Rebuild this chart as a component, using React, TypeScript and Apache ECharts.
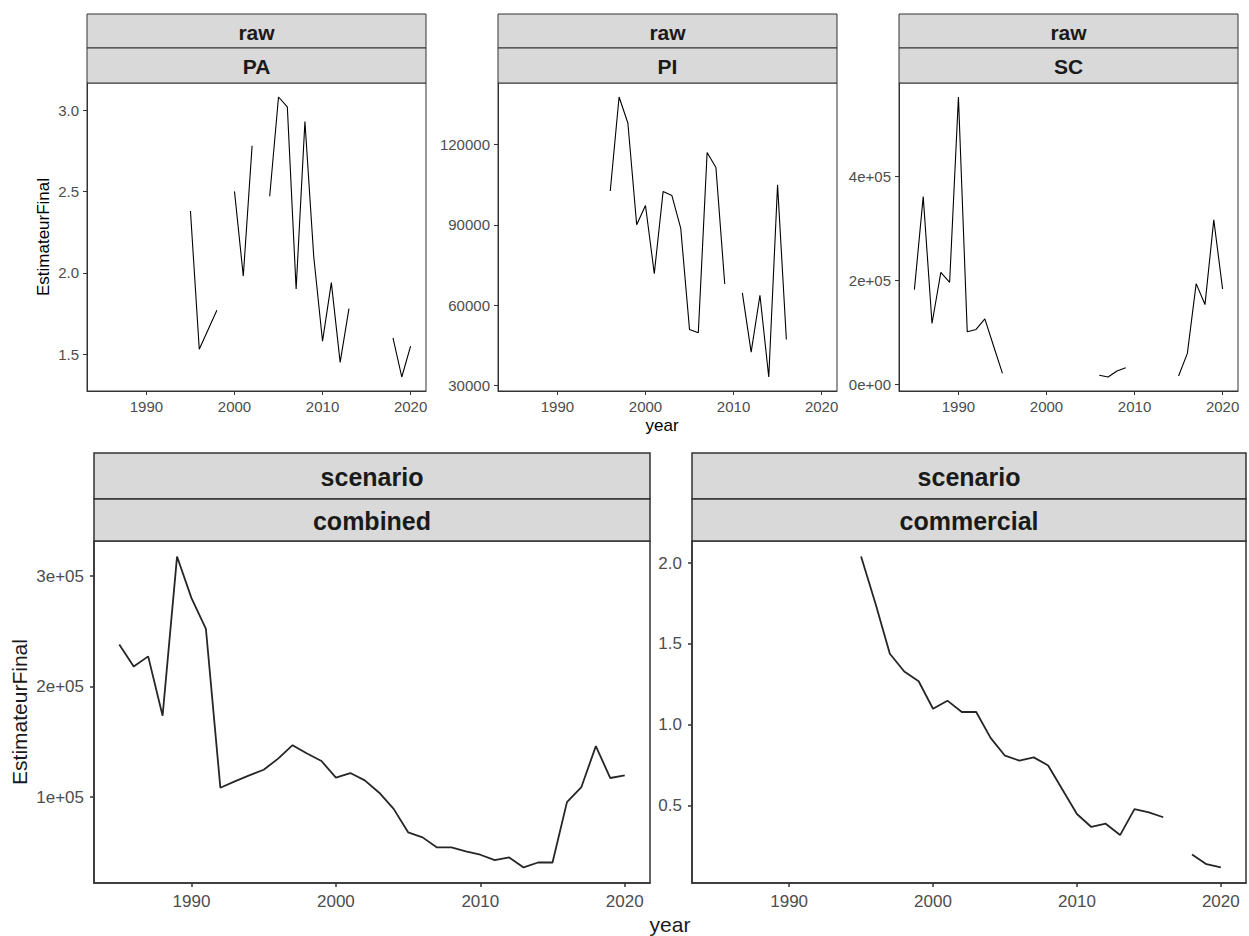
import React, { useEffect, useRef } from "react";
import * as echarts from "echarts";

const YEARS = [1985, 1986, 1987, 1988, 1989, 1990, 1991, 1992, 1993, 1994, 1995, 1996, 1997, 1998, 1999, 2000, 2001, 2002, 2003, 2004, 2005, 2006, 2007, 2008, 2009, 2010, 2011, 2012, 2013, 2014, 2015, 2016, 2017, 2018, 2019, 2020];

const PA = [null, null, null, null, null, null, null, null, null, null, 2.38, 1.53, 1.65, 1.77, null, 2.5, 1.98, 2.78, null, 2.47, 3.08, 3.02, 1.9, 2.93, 2.1, 1.58, 1.94, 1.45, 1.78, null, null, null, null, 1.6, 1.36, 1.55];
const PI = [null, null, null, null, null, null, null, null, null, null, null, 102600, 137700, 128000, 90000, 97200, 71800, 102400, 100900, 88800, 50900, 49700, 117000, 111400, 67900, null, 64600, 42500, 63700, 33200, 104900, 47200, null, null, null, null];
const SC = [181800, 360400, 116700, 215000, 195900, 551800, 100800, 105300, 125700, 73000, 21000, null, null, null, null, null, null, null, null, null, null, 17200, 14000, 25500, 31900, null, null, null, null, null, 16000, 59300, 193300, 153100, 315800, 183100];
const COMBINED = [238000, 218200, 227300, 173600, 317600, 280000, 252100, 108500, 114200, 119700, 124800, 134800, 147000, 139400, 132700, 117600, 121800, 115200, 104000, 89400, 68200, 63600, 54500, 54500, 50900, 47900, 43000, 45500, 36400, 40900, 40900, 95500, 109100, 146100, 117300, 119700];
const COMMERCIAL = [null, null, null, null, null, null, null, null, null, null, 2.04, 1.75, 1.44, 1.33, 1.27, 1.1, 1.15, 1.08, 1.08, 0.92, 0.81, 0.78, 0.8, 0.75, 0.6, 0.45, 0.37, 0.39, 0.32, 0.48, 0.46, 0.43, null, 0.2, 0.14, 0.12];

const X_TICKS = [1990, 2000, 2010, 2020];
const PA_TICKS = [1.5, 2.0, 2.5, 3.0];
const PI_TICKS = [30000, 60000, 90000, 120000];
const SC_TICKS = [0, 200000, 400000];
const COMBINED_TICKS = [100000, 200000, 300000];
const COMMERCIAL_TICKS = [0.5, 1.0, 1.5, 2.0];

const STRIP_TOP = ["raw", "raw", "raw", "scenario", "scenario"];
const STRIP_BOTTOM = ["PA", "PI", "SC", "combined", "commercial"];

const FONT = "'Liberation Sans', Arial, Helvetica, sans-serif";

function range(vals: (number | null)[]): [number, number] {
  const v = vals.filter((x) => x !== null) as number[];
  const mn = Math.min(...v);
  const mx = Math.max(...v);
  const pad = (mx - mn) * 0.05;
  return [mn - pad, mx + pad];
}

function sci(v: number): string {
  if (v === 0) return "0e+00";
  const e = Math.floor(Math.log10(Math.abs(v)));
  const m = Math.round((v / Math.pow(10, e)) * 100) / 100;
  const es = (e < 0 ? "-" : "+") + String(Math.abs(e)).padStart(2, "0");
  return `${m}e${es}`;
}

export default function App() {
  const ref = useRef<HTMLDivElement>(null);

  useEffect(() => {
    if (!ref.current) return;
    const chart = echarts.init(ref.current, null, { renderer: "svg" });

    const xr: [number, number] = [
      YEARS[0] - (YEARS[YEARS.length - 1] - YEARS[0]) * 0.05,
      YEARS[YEARS.length - 1] + (YEARS[YEARS.length - 1] - YEARS[0]) * 0.05,
    ];

    const panels = [
      { vals: PA, ticks: PA_TICKS, fmt: (v: number) => v.toFixed(1), grid: { left: 87, top: 83, width: 339, height: 308 }, big: false },
      { vals: PI, ticks: PI_TICKS, fmt: (v: number) => String(v), grid: { left: 498, top: 83, width: 339, height: 308 }, big: false },
      { vals: SC, ticks: SC_TICKS, fmt: sci, grid: { left: 899, top: 83, width: 339, height: 308 }, big: false },
      { vals: COMBINED, ticks: COMBINED_TICKS, fmt: sci, grid: { left: 94, top: 541, width: 556, height: 342 }, big: true },
      { vals: COMMERCIAL, ticks: COMMERCIAL_TICKS, fmt: (v: number) => v.toFixed(1), grid: { left: 692, top: 541, width: 554, height: 342 }, big: true },
    ];

    const grids: any[] = [];
    const xAxes: any[] = [];
    const yAxes: any[] = [];
    const series: any[] = [];
    const graphics: any[] = [];

    panels.forEach((p, i) => {
      const big = p.big;
      const tickFont = big ? 17 : 15;
      grids.push({
        ...p.grid,
        show: true,
        borderColor: "#333333",
        borderWidth: big ? 1.5 : 1,
        backgroundColor: "#ffffff",
        containLabel: false,
      });
      const axisLine = { show: true, onZero: false, lineStyle: { color: "#333333", width: big ? 1.5 : 1 } };
      const axisTick = { show: true, length: 4, lineStyle: { color: "#333333", width: big ? 1.5 : 1 } };
      xAxes.push({
        type: "value",
        gridIndex: i,
        min: xr[0],
        max: xr[1],
        splitLine: { show: false },
        axisLine,
        axisTick: { ...axisTick, customValues: X_TICKS },
        axisLabel: {
          customValues: X_TICKS,
          color: "#4d4d4d",
          fontFamily: FONT,
          fontSize: tickFont,
          margin: big ? 10 : 8,
          formatter: (v: number) => String(v),
        },
      });
      const yr = range(p.vals);
      yAxes.push({
        type: "value",
        gridIndex: i,
        min: yr[0],
        max: yr[1],
        splitLine: { show: false },
        axisLine,
        axisTick: { ...axisTick, customValues: p.ticks },
        axisLabel: {
          customValues: p.ticks,
          color: "#4d4d4d",
          fontFamily: FONT,
          fontSize: tickFont,
          margin: big ? 10 : 8,
          formatter: p.fmt,
        },
      });
      series.push({
        type: "line",
        xAxisIndex: i,
        yAxisIndex: i,
        showSymbol: false,
        symbol: "none",
        connectNulls: false,
        lineStyle: { color: big ? "#262626" : "#000000", width: big ? 1.8 : 1.1 },
        data: YEARS.map((y, k) => [y, p.vals[k] === null ? "-" : p.vals[k]]),
      });

      // facet strips
      const g = p.grid;
      const stripH1 = big ? 46 : 34;
      const stripH2 = big ? 42 : 35;
      const y0 = g.top - stripH1 - stripH2;
      const stripFont = big ? 25 : 21;
      const stroke = { stroke: "#333333", lineWidth: big ? 1.5 : 1, fill: "#d9d9d9" };
      graphics.push({
        type: "rect",
        shape: { x: g.left, y: y0, width: g.width, height: stripH1 },
        style: stroke,
      });
      graphics.push({
        type: "rect",
        shape: { x: g.left, y: y0 + stripH1, width: g.width, height: stripH2 },
        style: stroke,
      });
      graphics.push({
        type: "text",
        x: g.left + g.width / 2,
        y: y0 + stripH1 / 2 + 1,
        style: {
          text: STRIP_TOP[i],
          font: `bold ${stripFont}px ${FONT}`,
          fill: "#1a1a1a",
          align: "center",
          verticalAlign: "middle",
        },
      });
      graphics.push({
        type: "text",
        x: g.left + g.width / 2,
        y: y0 + stripH1 + stripH2 / 2 + 1,
        style: {
          text: STRIP_BOTTOM[i],
          font: `bold ${stripFont}px ${FONT}`,
          fill: "#1a1a1a",
          align: "center",
          verticalAlign: "middle",
        },
      });
    });

    // axis titles
    graphics.push({
      type: "text",
      x: 43,
      y: 237,
      rotation: Math.PI / 2,
      style: { text: "EstimateurFinal", font: `17px ${FONT}`, fill: "#000000", align: "center", verticalAlign: "middle" },
    });
    graphics.push({
      type: "text",
      x: 662,
      y: 425,
      style: { text: "year", font: `17px ${FONT}`, fill: "#000000", align: "center", verticalAlign: "middle" },
    });
    graphics.push({
      type: "text",
      x: 19,
      y: 712,
      rotation: Math.PI / 2,
      style: { text: "EstimateurFinal", font: `21px ${FONT}`, fill: "#1a1a1a", align: "center", verticalAlign: "middle" },
    });
    graphics.push({
      type: "text",
      x: 670,
      y: 924,
      style: { text: "year", font: `21px ${FONT}`, fill: "#1a1a1a", align: "center", verticalAlign: "middle" },
    });

    chart.setOption({
      animation: false,
      backgroundColor: "#ffffff",
      grid: grids,
      xAxis: xAxes,
      yAxis: yAxes,
      series,
      graphic: graphics,
    });

    return () => chart.dispose();
  }, []);

  return (
    <div
      ref={ref}
      style={{ position: "fixed", left: 0, top: 0, width: 1249, height: 936, background: "#fff" }}
    />
  );
}
